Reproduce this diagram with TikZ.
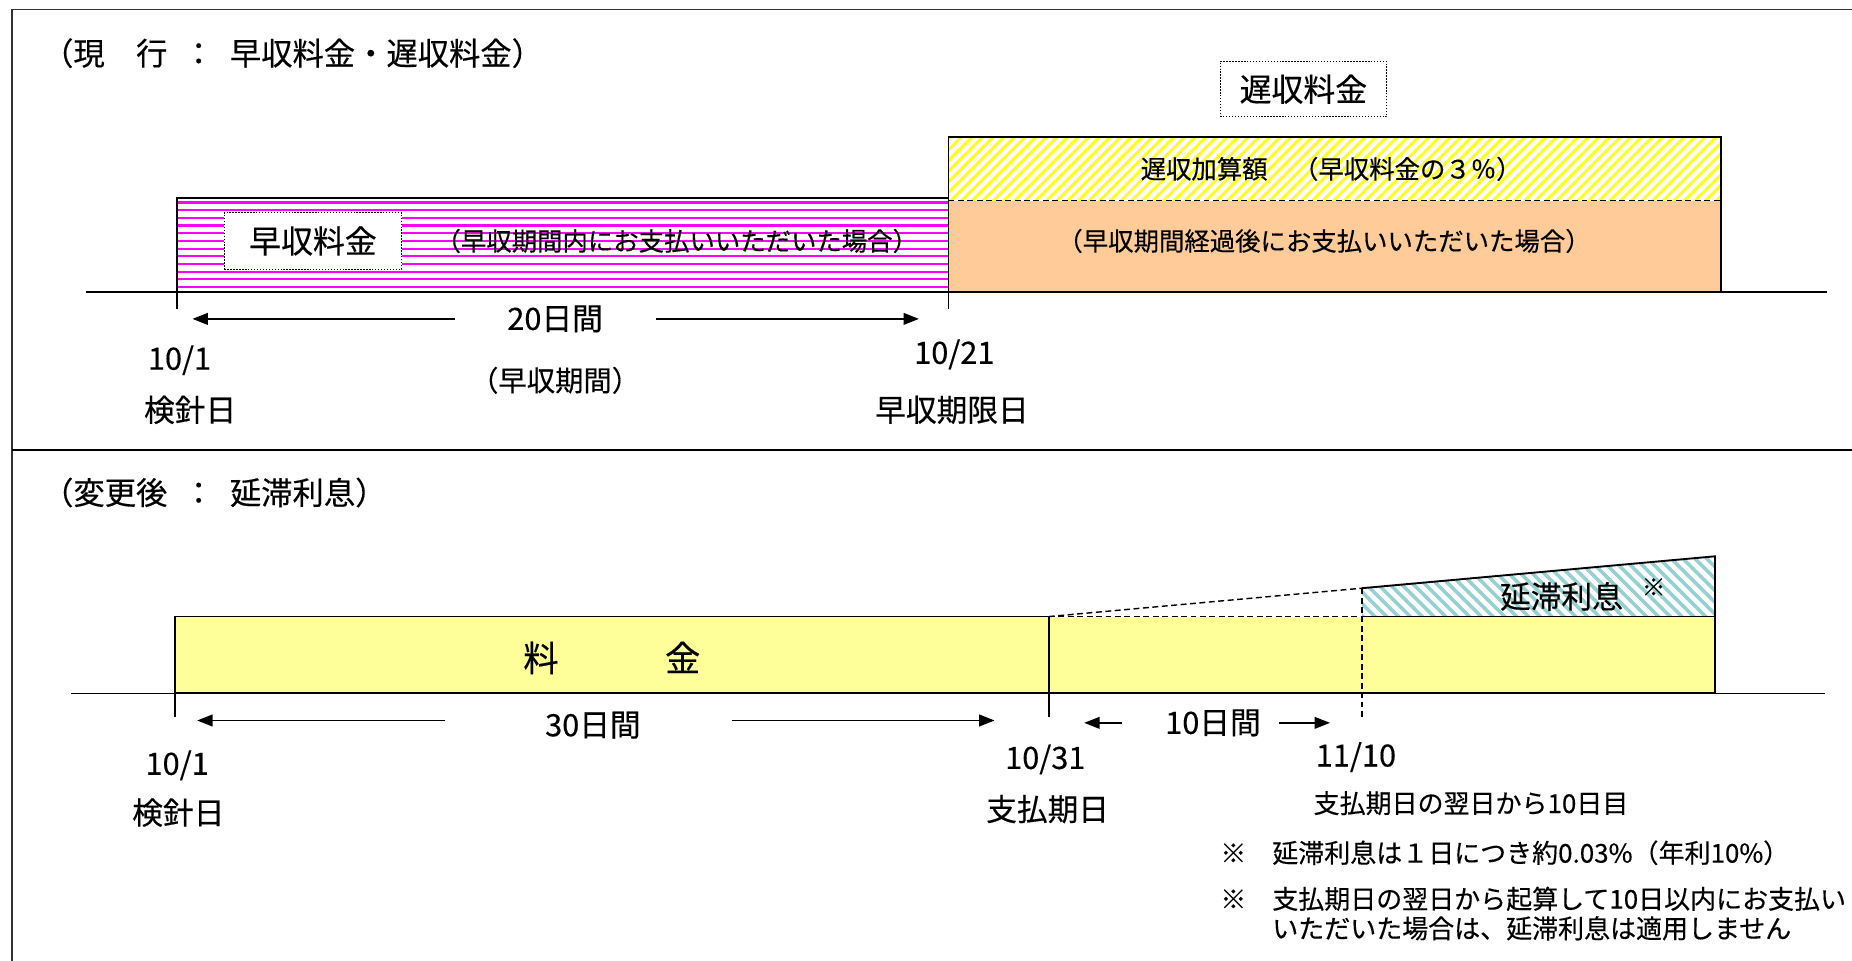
\documentclass[tikz,border=0pt]{standalone}
\usepackage{fontspec}
\usepackage{graphicx}
\setmainfont{Noto Sans CJK JP}[FakeBold=0.35]
\usetikzlibrary{arrows.meta}
\definecolor{pinkhatch}{RGB}{255,0,255}
\definecolor{yelhatch}{RGB}{255,255,40}
\definecolor{orangefill}{RGB}{255,204,153}
\definecolor{yelfill}{RGB}{255,255,153}
\definecolor{tealhatch}{RGB}{150,208,208}
\newcommand{\fsz}[1]{\fontsize{#1pt}{#1pt}\selectfont}
\newcommand{\hsp}{\hspace{13.25pt}}
\begin{document}
\begin{tikzpicture}[x=1pt,y=-1pt,
  lbl/.style={inner sep=0pt,anchor=center},
  ttl/.style={inner sep=0pt,anchor=west,font=\fsz{26.5}},
  big/.style={lbl,font=\fsz{27}},
  mid/.style={lbl,font=\fsz{21.5}},
  date/.style={lbl,font=\fsz{26}},
  note/.style={inner sep=0pt,anchor=west,font=\fsz{22}},
  boxline/.style={line width=1.6pt},
  axis/.style={line width=1.3pt},
  dotbox/.style={draw,fill=white,line width=0.9pt,dash pattern=on 1.2pt off 1.3pt},
  dsh/.style={line width=1.2pt,dash pattern=on 5pt off 3pt},
  arr/.style={line width=1.2pt,-{Triangle[length=13pt,width=10pt]}}
]
\useasboundingbox (0,0) rectangle (1568,813);
\clip (0,0) rectangle (1568,813);
\fill[white] (0,0) rectangle (1568,813);

% frame
\draw[line width=1.5pt,black!80] (10,900) -- (10,8) -- (1700,8);
\draw[line width=2.2pt] (10,381) -- (1700,381);

% ===== top part =====
\node[ttl] (t1) at (35.5,45) {（現　行\hsp{}：\hsp{}早収料金・遅収料金）};

% pink hatched box
\begin{scope}
  \clip (150,168) rectangle (803,247);
  \foreach \yy in {171.5,178,...,247} \draw[pinkhatch,line width=1.9pt] (150,\yy) -- (803,\yy);
\end{scope}
\draw[boxline] (150,247) -- (150,168) -- (803,168) -- (803,247);

% orange box and yellow hatched part
\fill[orangefill] (803,170) rectangle (1457,247);
\begin{scope}
  \clip (803,116) rectangle (1457,170);
  \foreach \xx in {740,749,...,1460} \draw[yelhatch,line width=2.6pt] (\xx,172) -- ++(58,-58);
\end{scope}
\draw[boxline] (803,247) -- (803,116) -- (1457,116) -- (1457,247);
\draw[dsh] (803,170) -- (1457,170);

\node[mid] (addtxt) at (1127,143) {遅収加算額　（早収料金の３％）};
\node[mid] (latetxt) at (1121,204) {（早収期間経過後にお支払いいただいた場合）};
\node[dotbox,minimum width=141pt,minimum height=47pt,inner sep=0pt] (latebox) at (1103.5,75.5) {};
\node[big] (latelbl) at (latebox.center) {遅収料金};

\node[dotbox,minimum width=150pt,minimum height=48pt,inner sep=0pt] (earlybox) at (265,204) {};
\node[big] (earlylbl) at (earlybox.center) {早収料金};
\node[mid] (earlytxt) at (573,204) {（早収期間内にお支払いいただいた場合）};

% axis and ticks
\coordinate (ax1a) at (73,247);
\coordinate (ax1b) at (1547,247);
\draw[axis] (ax1a) -- (ax1b);
\coordinate (tk1a) at (150,247); \coordinate (tk1b) at (150,262);
\coordinate (tk2a) at (803,247); \coordinate (tk2b) at (803,262);
\draw[line width=1.2pt] (tk1a) -- (tk1b);
\draw[line width=1.2pt] (tk2a) -- (tk2b);

% 20 days
\node[date] (d20) at (470,270) {20日間};
\coordinate (a20l0) at (385,270); \coordinate (a20l1) at (163,270);
\coordinate (a20r0) at (555,270); \coordinate (a20r1) at (778,270);
\draw[arr] (a20l0) -- (a20l1);
\draw[arr] (a20r0) -- (a20r1);
\node[lbl,font=\fsz{24}] (period) at (470,322) {（早収期間）};

\node[date] (t101) at (152,305) {10/1};
\node[date] (t101b) at (161,347) {検針日};
\node[date] (t1021) at (808,300) {10/21};
\node[date] (t1021b) at (806,347) {早収期限日};

% ===== bottom part =====
\node[ttl] (t2) at (35.5,417) {（変更後\hsp{}：\hsp{}延滞利息）};

\fill[yelfill] (148,522) rectangle (1452,587);
% teal hatched triangle
\begin{scope}
  \clip (1153,498) -- (1452,471) -- (1452,522) -- (1153,522) -- cycle;
  \foreach \xx in {1100,1110,...,1460} \draw[tealhatch,line width=3pt] (\xx,468) -- ++(58,58);
\end{scope}
\draw[boxline] (1153,498) -- (1452,471) -- (1452,587);
\draw[boxline] (148,587) -- (148,522) -- (888,522);
\draw[boxline] (1153,522) -- (1452,522);
\draw[boxline] (148,587) -- (1452,587);
\draw[boxline] (888,522) -- (888,587);
\draw[dsh] (888,522) -- (1153,522);
\draw[dsh] (888,522) -- (1153,498);

\node[lbl,font=\fsz{30}] (fee) at (518,557) {料　　　金};
\node[lbl,font=\fsz{26}] (interest) at (1322,505) {延滞利息};
\node[lbl,font=\fsz{20}] (mark) at (1400,497) {※};

% axis and ticks
\coordinate (ax2a) at (60,587);
\coordinate (ax2b) at (1545,587);
\draw[axis] (ax2a) -- (ax2b);
\coordinate (tk3a) at (148,587); \coordinate (tk3b) at (148,607);
\coordinate (tk4a) at (888,587); \coordinate (tk4b) at (888,607);
\coordinate (tk5a) at (1153,498); \coordinate (tk5b) at (1153,608);
\draw[line width=1.2pt] (tk3a) -- (tk3b);
\draw[line width=1.2pt] (tk4a) -- (tk4b);
\draw[dsh] (tk5a) -- (tk5b);

% 30 days
\node[date] (d30) at (502,614) {30日間};
\coordinate (a30l0) at (377,610); \coordinate (a30l1) at (167,610);
\coordinate (a30r0) at (620,610); \coordinate (a30r1) at (842,610);
\draw[arr] (a30l0) -- (a30l1);
\draw[arr] (a30r0) -- (a30r1);

% 10 days
\node[date] (d10) at (1027,612) {10日間};
\coordinate (a10l0) at (950,612); \coordinate (a10l1) at (918,612);
\coordinate (a10r0) at (1083,612); \coordinate (a10r1) at (1126,612);
\draw[arr] (a10l0) -- (a10l1);
\draw[arr] (a10r0) -- (a10r1);

\node[date] (b101) at (150,648) {10/1};
\node[date] (b101b) at (151,688) {検針日};
\node[date] (b1031) at (885,643) {10/31};
\node[date] (b1031b) at (887,685) {支払期日};
\node[date] (b1110) at (1148,641) {11/10};
\node[note] (b1110b) at (1112,680) {支払期日の翌日から10日目};

\node[note] (n1) at (1033,722) {※　延滞利息は１日につき約0.03\%（年利10\%）};
\node[note] (n2) at (1033,761) {※　支払期日の翌日から起算して10日以内にお支払い};
\node[note] (n3) at (1077,786) {いただいた場合は、延滞利息は適用しません};
\end{tikzpicture}
\end{document}
